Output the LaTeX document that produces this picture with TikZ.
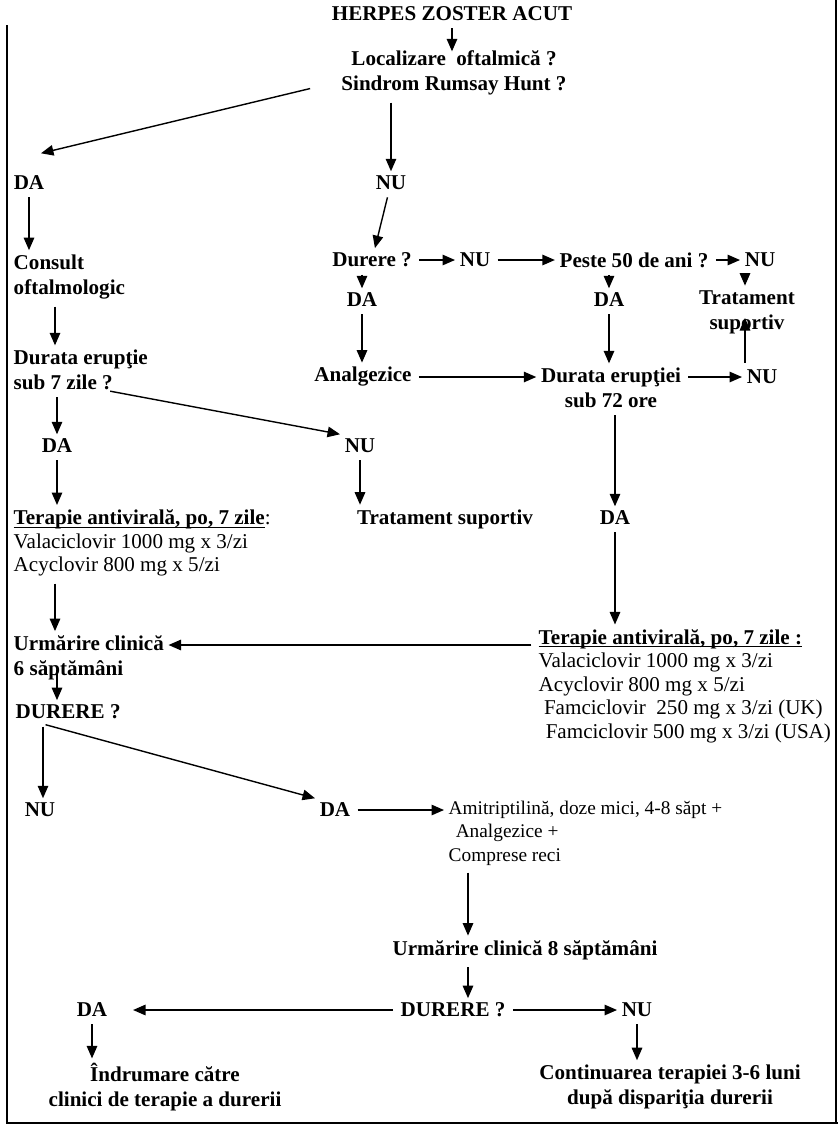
\documentclass[tikz,border=0pt]{standalone}
\usepackage{fontspec}
\setmainfont{Liberation Serif}
\usetikzlibrary{arrows.meta}
\tikzset{
  lb/.style={font=\fontsize{12pt}{14.2pt}\selectfont\bfseries, inner sep=2.5pt},
  tx/.style={font=\fontsize{12pt}{13.4pt}\selectfont, inner sep=2.5pt, align=left},
  ar/.style={-{Triangle[length=2.5mm,width=2.1mm]}, line width=0.8pt, shorten <=1.5pt},
}
\newcommand{\ulhead}[1]{\textbf{\underline{\smash{#1}}\vphantom{#1}}}
\begin{document}
\begin{tikzpicture}[x=0.02cm,y=-0.02cm]
\useasboundingbox (0,0) rectangle (838,1127);
% frame (top edge cut off)
\draw[line width=1.1pt] (7,25) -- (7,1123) -- (838,1123) (836,0) -- (836,1123);
\coordinate (cA) at (55,0);
\coordinate (cR) at (745,0);
\coordinate (cM) at (468,0);
\coordinate (rowT) at (0,645);
\coordinate (cL2) at (57,667);
\coordinate (fork) at (43,724);
\coordinate (supTip) at (745,318);
\path
(452,14) node[lb] (hz) {HERPES ZOSTER ACUT}
(454,73) node[lb,align=center] (loc) {Localizare~~oftalmică ?\\Sindrom Rumsay Hunt ?}
(29,183) node[lb] (da1) {DA}
(391,183) node[lb] (nu1) {NU}
(9,277) node[lb,anchor=west,align=left] (cons) {Consult\\oftalmologic}
(9,370) node[lb,anchor=west,align=left] (dur1) {Durata erupţie\\sub 7 zile ?}
(57,446) node[lb] (da2) {DA}
(360,446) node[lb] (nu2) {NU}
(9,543) node[tx,anchor=west] (ter1) {\ulhead{Terapie antivirală, po, 7 zile}:\\Valaciclovir 1000 mg x 3/zi\\Acyclovir 800 mg x 5/zi}
(445,519) node[lb] (sup1) {Tratament suportiv}
(372,260) node[lb] (pain1) {Durere ?}
(475,260) node[lb] (nu3) {NU}
(634,260) node[lb] (age) {Peste 50 de ani ?}
(760,260) node[lb] (nu4) {NU}
(747,312) node[lb,align=center] (sup2) {Tratament\\suportiv}
(362,300) node[lb] (da3) {DA}
(363,377) node[lb] (analg) {Analgezice}
(609,300) node[lb] (da4) {DA}
(611,388) node[lb,align=center] (dur2) {Durata erupţiei\\sub 72 ore}
(762,377) node[lb] (nu5) {NU}
(615,518) node[lb] (da5) {DA}
(534,686) node[tx,anchor=west] (ter2) {\ulhead{Terapie antivirală, po, 7 zile :}\\Valaciclovir 1000 mg x 3/zi\\Acyclovir 800 mg x 5/zi\\\hspace{3pt}Famciclovir~~250 mg x 3/zi (UK)\\\hspace{4pt}Famciclovir 500 mg x 3/zi (USA)}
(9,658) node[lb,anchor=west,align=left] (urm1) {Urmărire clinică\\6 săptămâni}
(11,712) node[lb,anchor=west] (pain2) {DURERE ?}
(40,810) node[lb] (nu6) {NU}
(335,810) node[lb] (da6) {DA}
(444,833) node[tx,anchor=west,font=\fontsize{11pt}{13.4pt}\selectfont] (amit) {Amitriptilină, doze mici, 4-8 săpt +\\\hspace{4pt}Analgezice +\\Comprese reci}
(525,950) node[lb] (urm2) {Urmărire clinică 8 săptămâni}
(453,1010) node[lb] (pain3) {DURERE ?}
(92,1010) node[lb] (da7) {DA}
(637,1010) node[lb] (nu7) {NU}
(165,1087) node[lb,align=center] (ref) {Îndrumare către\\clinici de terapie a durerii}
(670,1087) node[lb,align=center] (cont) {Continuarea terapiei 3-6 luni\\după dispariţia durerii};
% left branch
\draw[ar,shorten >=-3pt] (hz) -- (hz |- loc.north);
\draw[ar] ([shift={(-24,-12)}]loc.south west) -- ([shift={(-8,-18)}]da1.north east);
\draw[ar] (da1) -- (da1 |- cons.north);
\draw[ar] (cons.south -| cA) -- (dur1.north -| cA);
\draw[ar] (dur1.south -| da2) -- (da2);
\draw[ar] ([shift={(-45,-4)}]dur1.south east) -- (nu2.north west);
\draw[ar] (nu2) -- (nu2 |- sup1.north);
\draw[ar] (da2) -- (da2 |- ter1.north);
\draw[ar] (ter1.south -| cA) -- (urm1.north -| cA);
\draw[ar] (cL2) -- (cL2 |- pain2.north);
\draw[ar] (fork) -- (fork |- nu6.north);
\draw[ar] (fork) -- (da6.north west);
\draw[ar] (da6) -- (da6 -| amit.west);
% right branch
\draw[ar] (loc.south -| nu1) -- (nu1);
\draw[ar] (nu1) -- (pain1);
\draw[ar] (pain1) -- (nu3);
\draw[ar] (nu3) -- (age);
\draw[ar] (age) -- (nu4);
\draw[ar] (nu4.south -| cR) -- (sup2.north -| cR);
\draw[ar] (nu5.north -| cR) -- (supTip);
\draw[ar] (pain1.south -| da3) -- (da3);
\draw[ar] (da3) -- (da3 |- analg.north);
\draw[ar] (age.south -| da4) -- (da4);
\draw[ar] (da4) -- (da4 |- dur2.north);
\draw[ar] (analg) -- (analg -| dur2.west);
\draw[ar] (dur2.east |- nu5) -- (nu5);
\draw[ar] (dur2.south -| da5) -- (da5);
\draw[ar] (da5) -- (da5 |- ter2.north);
\draw[ar] (ter2.west |- rowT) -- (urm1.east |- rowT);
% bottom
\draw[ar] (amit.south -| cM) -- (urm2.north -| cM);
\draw[ar] (urm2.south -| cM) -- (pain3.north -| cM);
\draw[ar,shorten >=12pt] (pain3) -- (da7);
\draw[ar] (pain3) -- (nu7);
\draw[ar] (da7) -- (da7 |- ref.north);
\draw[ar] (nu7) -- (nu7 |- cont.north);
\end{tikzpicture}
\end{document}
